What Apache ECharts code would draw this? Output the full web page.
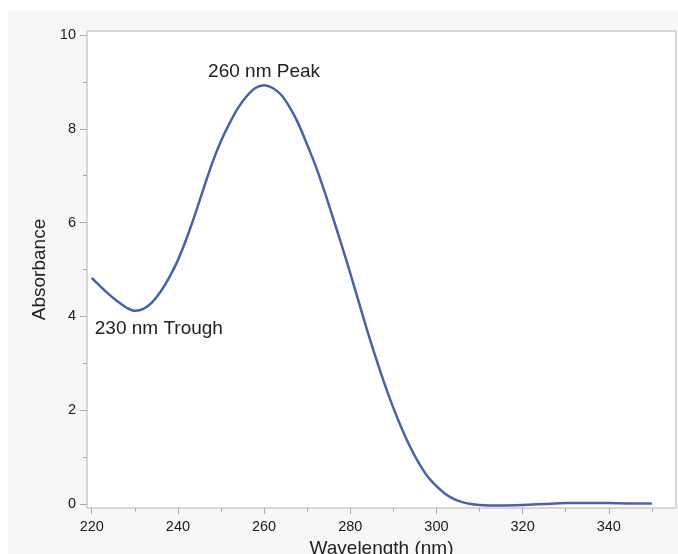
<!DOCTYPE html>
<html>
<head>
<meta charset="utf-8">
<script src="https://cdn.jsdelivr.net/npm/echarts@6/dist/echarts.min.js"></script>
<style>
  body { margin: 0; background: #fff; }
  #backdrop { position: absolute; left: 8px; top: 10px; width: 670px; height: 544px; background: #f7f7f7; }
  #chart { position: absolute; left: 0; top: 0; width: 678px; height: 554px; }
</style>
</head>
<body>
<div id="backdrop"></div>
<div id="chart"></div>
<script>
// spectrum
const wavelength = [220, 222, 224, 226, 228, 230, 232, 234, 236, 238, 240, 242, 244, 246, 248, 250,
  252, 254, 256, 258, 260, 262, 264, 266, 268, 270, 272, 274, 276, 278, 280, 282, 284, 286, 288,
  290, 292, 294, 296, 298, 300, 302, 304, 306, 308, 310, 312, 315, 320, 325, 330, 335, 340, 345, 350];
const absorbance = [4.82, 4.64, 4.47, 4.32, 4.19, 4.12, 4.16, 4.30, 4.53, 4.83, 5.20, 5.66, 6.18, 6.74,
  7.28, 7.74, 8.12, 8.45, 8.70, 8.87, 8.93, 8.87, 8.72, 8.45, 8.10, 7.66, 7.20, 6.67, 6.10, 5.52,
  4.92, 4.30, 3.68, 3.10, 2.55, 2.05, 1.60, 1.20, 0.86, 0.58, 0.38, 0.22, 0.11, 0.04, 0.00, -0.02,
  -0.03, -0.03, -0.02, 0.00, 0.02, 0.02, 0.02, 0.01, 0.01];

const xMajorTicks = [220, 240, 260, 280, 300, 320, 340];
const xMinorTicks = [230, 250, 270, 290, 310, 330, 350];
const yMajorTicks = [0, 2, 4, 6, 8, 10];
const yMinorTicks = [1, 3, 5, 7, 9];

const annotations = [
  { text: '260 nm Peak', coord: [260, 8.93], position: 'top', offset: [0, 0] },
  { text: '230 nm Trough', coord: [230, 4.12], position: 'inside', offset: [24, 18] }
];

const font = 'Arial, "Liberation Sans", sans-serif';
const tickColor = '#a9a9a9';

const chart = echarts.init(document.getElementById('chart'));

const xBase = { type: 'value', min: 218.9, max: 355.6, gridIndex: 0, position: 'bottom',
  splitLine: { show: false }, axisLine: { show: false, onZero: false } };
const yBase = { type: 'value', min: -0.085, max: 10.085, gridIndex: 0, position: 'left',
  splitLine: { show: false }, axisLine: { show: false, onZero: false } };

chart.setOption({
  animation: false,
  grid: {
    left: 87, right: 2, top: 31, bottom: 46,
    outerBoundsMode: 'none',
    containLabel: false,
    show: true, backgroundColor: '#ffffff', borderColor: '#b4b4b4', borderWidth: 1
  },
  xAxis: [
    Object.assign({}, xBase, {
      name: 'Wavelength (nm)', nameLocation: 'middle', nameGap: 31,
      nameTextStyle: { fontFamily: font, fontSize: 19, color: '#222' },
      axisTick: { show: true, length: 6, customValues: xMajorTicks, lineStyle: { color: tickColor } },
      axisLabel: { show: true, margin: 11, customValues: xMajorTicks, fontFamily: font, fontSize: 14.5, color: '#1a1a1a' }
    }),
    Object.assign({}, xBase, {
      axisTick: { show: true, length: 3.5, customValues: xMinorTicks, lineStyle: { color: tickColor } },
      axisLabel: { show: false }
    })
  ],
  yAxis: [
    Object.assign({}, yBase, {
      name: 'Absorbance', nameLocation: 'middle', nameGap: 35, nameRotate: 90,
      nameTextStyle: { fontFamily: font, fontSize: 19, color: '#222' },
      axisTick: { show: true, length: 7, customValues: yMajorTicks, lineStyle: { color: tickColor } },
      axisLabel: { show: true, margin: 11, customValues: yMajorTicks, fontFamily: font, fontSize: 14.5, color: '#1a1a1a' }
    }),
    Object.assign({}, yBase, {
      axisTick: { show: true, length: 4, customValues: yMinorTicks, lineStyle: { color: tickColor } },
      axisLabel: { show: false }
    })
  ],
  series: [{
    type: 'line',
    xAxisIndex: 0,
    yAxisIndex: 0,
    data: wavelength.map((w, i) => [w, absorbance[i]]),
    smooth: 0.3,
    showSymbol: false,
    lineStyle: { color: '#4862aa', width: 2.5 },
    markPoint: {
      symbol: 'circle',
      symbolSize: 0,
      label: { fontFamily: font, fontSize: 19, color: '#222' },
      data: annotations.map(a => ({
        coord: a.coord,
        label: { show: true, formatter: a.text, position: a.position, offset: a.offset, distance: 4 }
      }))
    }
  }]
});
</script>
</body>
</html>
